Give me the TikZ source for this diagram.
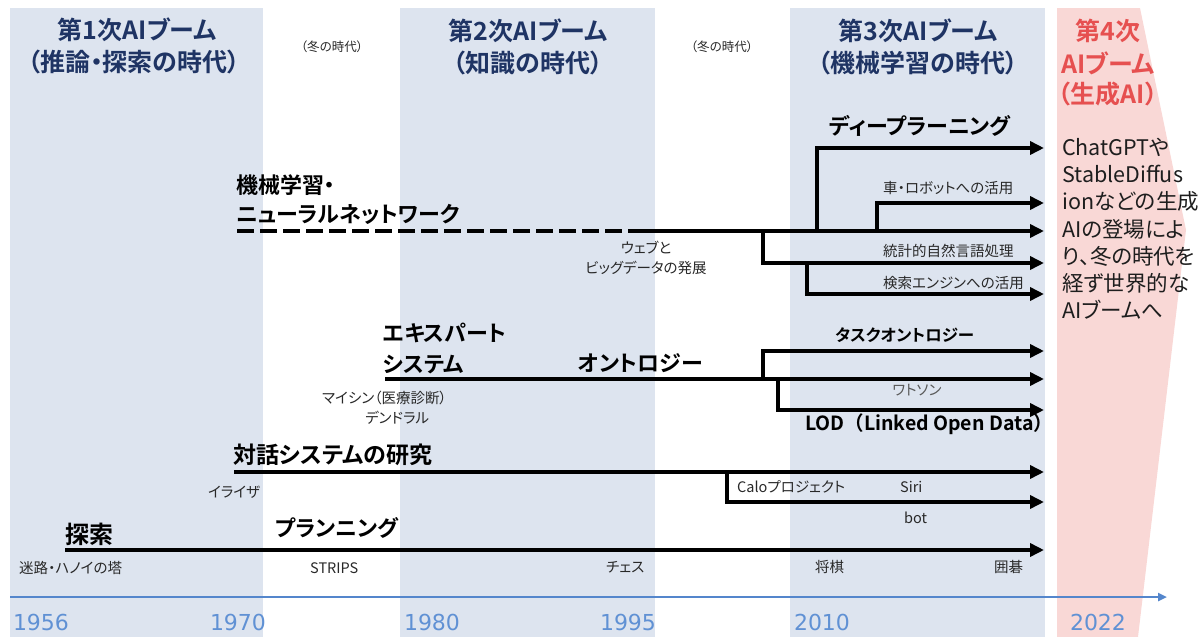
\documentclass[tikz,border=0pt]{standalone}
\usepackage{fontspec}
\setmainfont{Noto Sans CJK JP}[BoldFont={Noto Sans CJK JP Bold},RawFeature={+palt}]
\newfontfamily\jpwide{Noto Sans CJK JP}[BoldFont={Noto Sans CJK JP Bold}]
\newfontfamily\yearfont{DejaVu Sans}
\usetikzlibrary{arrows.meta}
\definecolor{bandblue}{RGB}{221,228,239}
\definecolor{bandpink}{RGB}{249,216,214}
\definecolor{navy}{RGB}{31,52,100}
\definecolor{boomred}{RGB}{230,80,80}
\definecolor{tlblue}{RGB}{84,134,204}
\definecolor{yearblue}{RGB}{96,145,212}
\definecolor{labelgray}{RGB}{40,40,40}
\definecolor{textdark}{RGB}{30,30,30}
\newcommand{\fsz}[2]{\fontsize{#1}{#2}\selectfont}
\tikzset{
  band/.style={fill=bandblue,draw=none},
  ttl/.style={font=\bfseries\fsz{25}{30},text=navy,inner sep=0pt,align=center},
  ttlred/.style={font=\bfseries\fsz{25}{30},text=boomred,inner sep=0pt,align=center},
  winter/.style={font=\fsz{12.5}{15},text=labelgray,inner sep=0pt},
  big/.style={font=\bfseries\fsz{22}{26},inner sep=0pt,anchor=west},
  mid/.style={font=\bfseries\fsz{16.5}{20},inner sep=0pt,anchor=west},
  small/.style={font=\fsz{14.5}{17},inner sep=0pt,text=labelgray,anchor=west},
  flow/.style={line width=4pt,-{Triangle[length=14pt,width=13pt]}},
  dashtrunk/.style={line width=4.5pt,dash pattern=on 17pt off 6pt},
  timeline/.style={line width=2.5pt,draw=tlblue,-{Triangle[length=9pt,width=8pt]}},
  year/.style={font=\yearfont\fsz{22}{26},text=yearblue,inner sep=0pt},
}
\begin{document}
\begin{tikzpicture}[x=1pt,y=-1pt]
\useasboundingbox (0,0) rectangle (1203,637);
% background bands
\fill[band] (10,8) rectangle (263,637);
\fill[band] (400,8) rectangle (655,637);
\fill[band] (790,8) rectangle (1045,637);
\fill[bandpink] (1057,8) -- (1140,8) -- (1186,230) -- (1138,637) -- (1057,637) -- cycle;

% titles
\node[ttl] (t1a) at (137,30) {第1次AIブーム};
\node[ttl] (t1b) at (134,62) {（推論・探索の時代）};
\node[winter] (w1) at (332,47) {（冬の時代）};
\node[ttl] (t2a) at (528,31) {第2次AIブーム};
\node[ttl] (t2b) at (528,63) {（知識の時代）};
\node[winter] (w2) at (722,47) {（冬の時代）};
\node[ttl] (t3a) at (918,31) {第3次AIブーム};
\node[ttl] (t3b) at (918,63) {（機械学習の時代）};
\node[ttlred] (t4a) at (1108,31) {第4次};
\node[ttlred] (t4b) at (1108,63) {AIブーム};
\node[ttlred] (t4c) at (1108,94) {（生成AI）};

% generative AI text
\node[anchor=north west,font=\fsz{21.5}{27.2},align=left,inner sep=0pt,text=textdark] (gen) at (1062,138)
  {ChatGPTや\\StableDiffus\\ionなどの生成\\AIの登場によ\\り、冬の時代を\\経ず世界的な\\AIブームへ};

% machine learning / neural network
\node[big] (ml1) at (236,185) {機械学習・};
\node[big] (ml2) at (236,214) {ニューラルネットワーク};
\coordinate (mlS) at (237,231);
\coordinate (mlD) at (638,231);
\coordinate (mlE) at (1044,231);
\draw[dashtrunk] (mlS) -- (mlD);
\draw[flow] (mlD) -- (mlE);
\node[small,anchor=center] (web1) at (646,248) {ウェブと};
\node[small,anchor=center] (web2) at (646,268) {ビッグデータの発展};

\coordinate (bDL) at (817,231);
\coordinate (eDL) at (1044,148);
\draw[flow] (bDL) |- (eDL);
\node[big,anchor=center] (dl) at (920,126) {ディープラーニング};

\coordinate (bCar) at (877,231);
\coordinate (eCar) at (1044,203);
\draw[flow] (bCar) |- (eCar);
\node[small] (car) at (883,188) {車・ロボットへの活用};

\coordinate (bNLP) at (763,231);
\coordinate (eNLP) at (1044,263);
\draw[flow] (bNLP) |- (eNLP);
\node[small] (nlp) at (883,251) {統計的自然言語処理};

\coordinate (bSE) at (807,263);
\coordinate (eSE) at (1044,294);
\draw[flow] (bSE) |- (eSE);
\node[small] (se) at (883,283) {検索エンジンへの活用};

% expert systems
\node[big] (ex1) at (383,333) {エキスパート};
\node[big] (ex2) at (383,364) {システム};
\node[big] (onto) at (578,363) {オントロジー};
\coordinate (exS) at (385,379);
\coordinate (exE) at (1044,379);
\draw[flow] (exS) -- (exE);
\node[small] (mycin) at (322,398) {マイシン（医療診断）};
\node[small] (dendral) at (365,418) {デンドラル};

\coordinate (bTask) at (763,379);
\coordinate (eTask) at (1044,351);
\draw[flow] (bTask) |- (eTask);
\node[mid] (task) at (835,335) {タスクオントロジー};
\node[small,anchor=center,text=black!65] (watson) at (917,390) {ワトソン};
\coordinate (bLOD) at (778,379);
\coordinate (eLOD) at (1044,410);
\draw[flow] (bLOD) |- (eLOD);
\node[mid,font=\jpwide\bfseries\fsz{19.5}{23}] (lod) at (805,424) {LOD（Linked Open Data）};

% dialogue systems
\node[big,font=\bfseries\fsz{23}{27}] (dlg) at (233,455) {対話システムの研究};
\coordinate (dgS) at (234,472);
\coordinate (dgE) at (1044,472);
\draw[flow] (dgS) -- (dgE);
\node[small] (eliza) at (208,492) {イライザ};
\coordinate (bCalo) at (727,472);
\coordinate (eCalo) at (1044,502);
\draw[flow] (bCalo) |- (eCalo);
\node[small] (calo) at (737,487) {Caloプロジェクト};
\node[small] (siri) at (900,487) {Siri};
\node[small] (bot) at (904,518) {bot};

% search / planning
\node[big,font=\bfseries\fsz{24}{28}] (srch) at (65,534) {探索};
\node[big] (plan) at (275,528) {プランニング};
\coordinate (srS) at (65,550);
\coordinate (srE) at (1044,550);
\draw[flow] (srS) -- (srE);
\node[small] (maze) at (19,568) {迷路・ハノイの塔};
\node[small] (strips) at (310,568) {STRIPS};
\node[small] (chess) at (606,567) {チェス};
\node[small] (shogi) at (815,567) {将棋};
\node[small] (go) at (994,567) {囲碁};

% timeline
\coordinate (tlS) at (10,597);
\coordinate (tlE) at (1167,597);
\draw[timeline] (tlS) -- (tlE);
\node[year] (y1) at (41,622) {1956};
\node[year] (y2) at (238,622) {1970};
\node[year] (y3) at (432,622) {1980};
\node[year] (y4) at (628,622) {1995};
\node[year] (y5) at (822,622) {2010};
\node[year] (y6) at (1098,622) {2022};
\end{tikzpicture}
\end{document}
